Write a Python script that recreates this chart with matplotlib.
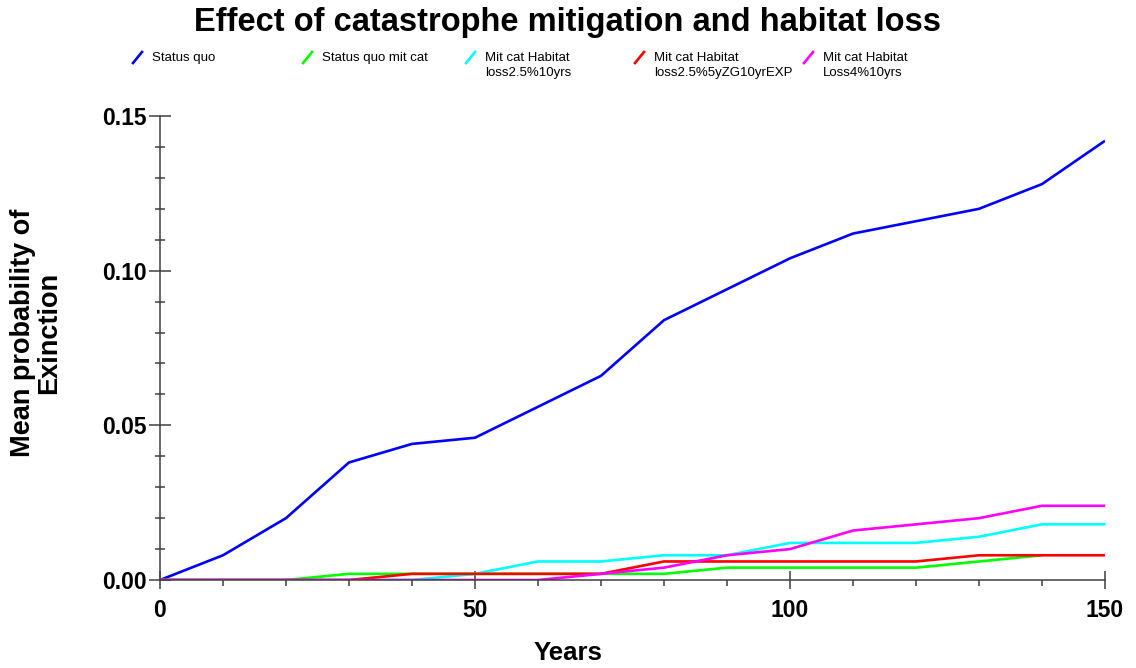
import matplotlib
matplotlib.use("Agg")
import matplotlib.pyplot as plt
from matplotlib.lines import Line2D
from matplotlib.ticker import MultipleLocator, FormatStrFormatter

plt.rcParams["font.family"] = ["Liberation Sans", "DejaVu Sans"]

# ---------------------------------------------------------
# Data
# ---------------------------------------------------------
years = [0, 10, 20, 30, 40, 50, 60, 70, 80, 90, 100, 110, 120, 130, 140, 150]

status_quo = [0.000, 0.008, 0.020, 0.038, 0.044, 0.046, 0.056, 0.066,
              0.084, 0.094, 0.104, 0.112, 0.116, 0.120, 0.128, 0.142]
status_quo_mit = [0.000, 0.000, 0.000, 0.002, 0.002, 0.002, 0.002, 0.002,
                  0.002, 0.004, 0.004, 0.004, 0.004, 0.006, 0.008]
hab_25_10 = [0.000, 0.000, 0.000, 0.000, 0.000, 0.002, 0.006, 0.006,
             0.008, 0.008, 0.012, 0.012, 0.012, 0.014, 0.018, 0.018]
hab_25_zg = [0.000, 0.000, 0.000, 0.000, 0.002, 0.002, 0.002, 0.002,
             0.006, 0.006, 0.006, 0.006, 0.006, 0.008, 0.008, 0.008]
hab_4_10 = [0.000, 0.000, 0.000, 0.000, 0.000, 0.000, 0.000, 0.002,
            0.004, 0.008, 0.010, 0.016, 0.018, 0.020, 0.024, 0.024]

series = [
    ("Status quo", status_quo, "#0000ff"),
    ("Status quo mit cat", status_quo_mit, "#00ff00"),
    ("Mit cat Habitat\nloss2.5%10yrs", hab_25_10, "#00ffff"),
    ("Mit cat Habitat\nloss2.5%5yZG10yrEXP", hab_25_zg, "#ff0000"),
    ("Mit cat Habitat\nLoss4%10yrs", hab_4_10, "#ff00ff"),
]

# ---------------------------------------------------------
# Figure
# ---------------------------------------------------------
fig = plt.figure(figsize=(11.36, 6.68), dpi=100)
ax = fig.add_axes([0.1408, 0.1317, 0.8319, 0.6946])

for name, vals, col in series:
    ax.plot(years[:len(vals)], vals, color=col, lw=1.9, solid_capstyle="butt")

ax.set_xlim(0, 150)
ax.set_ylim(0, 0.15)

ax.xaxis.set_major_locator(MultipleLocator(50))
ax.xaxis.set_minor_locator(MultipleLocator(10))
ax.yaxis.set_major_locator(MultipleLocator(0.05))
ax.yaxis.set_minor_locator(MultipleLocator(0.01))
ax.yaxis.set_major_formatter(FormatStrFormatter("%.2f"))

axis_col = "#404040"
for side in ["top", "right"]:
    ax.spines[side].set_visible(False)
for side in ["left", "bottom"]:
    ax.spines[side].set_color(axis_col)
    ax.spines[side].set_linewidth(1.1)

ax.tick_params(axis="x", which="major", direction="inout", length=13, width=1.1,
               color=axis_col, pad=7, labelsize=16.5)
ax.tick_params(axis="x", which="minor", direction="out", length=4.5, width=1.1,
               color=axis_col)
ax.tick_params(axis="y", which="major", direction="inout", length=16, width=1.1,
               color=axis_col, pad=1.5, labelsize=16.5)
ax.tick_params(axis="y", which="minor", direction="inout", length=7, width=1.1,
               color=axis_col)
for lab in ax.get_xticklabels() + ax.get_yticklabels():
    lab.set_fontweight("bold")

# Titles / labels
fig.text(0.5, 1 - 22 / 668, "Effect of catastrophe mitigation and habitat loss",
         ha="center", va="center", fontsize=23.5, fontweight="bold")
fig.text(0.5, 1 - 653 / 668, "Years", ha="center", va="center",
         fontsize=18.5, fontweight="bold")
fig.text(36 / 1136, 1 - 333 / 668, "Mean probability of\nExinction",
         rotation=90, ha="center", va="center", multialignment="center",
         fontsize=19.5, fontweight="bold", linespacing=1.0)

# Legend drawn across the top
handle_x = [133, 303, 466, 635, 804]
for (name, vals, col), hx in zip(series, handle_x):
    fig.add_artist(Line2D([hx / 1136, (hx + 9) / 1136],
                          [1 - 63 / 668, 1 - 52 / 668],
                          color=col, lw=1.9, transform=fig.transFigure))
    fig.text((hx + 19) / 1136, 1 - 52 / 668, name, ha="left", va="top",
             fontsize=9.5, linespacing=1.3)

fig.savefig("out.png", dpi=100)
